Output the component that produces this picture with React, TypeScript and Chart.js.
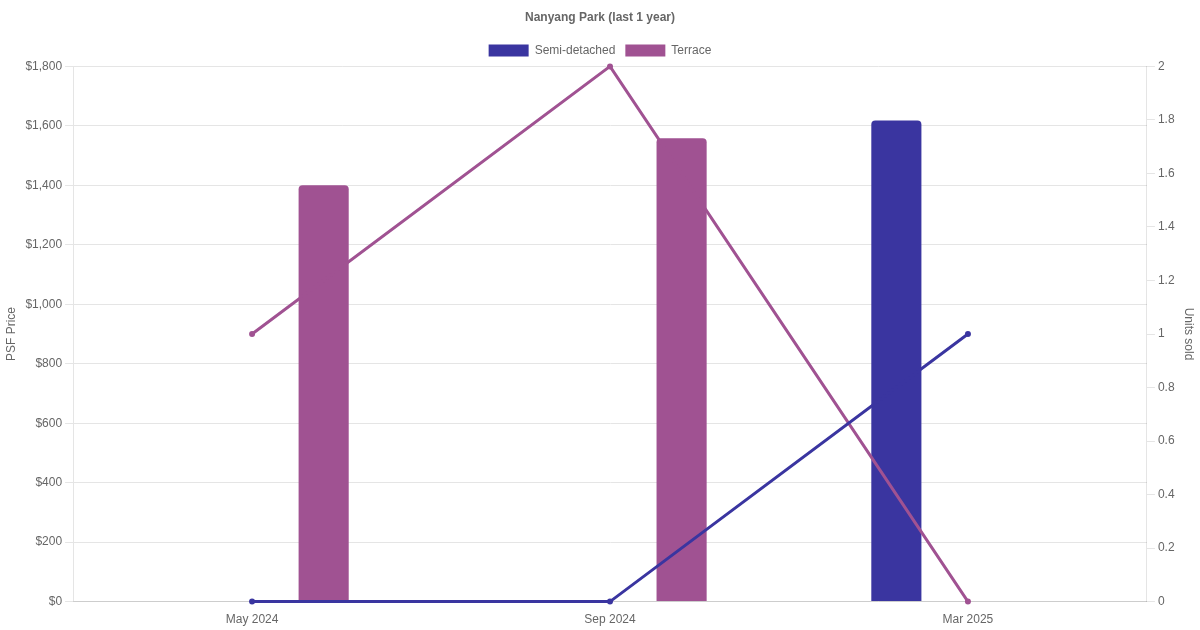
import React, { useEffect, useRef } from "react";
import { Chart, registerables } from "chart.js";

Chart.register(...registerables);

const categories = ["May 2024", "Sep 2024", "Mar 2025"];
const semiPsf: (number | null)[] = [null, null, 1618];
const terracePsf: (number | null)[] = [1400, 1558, null];
const semiUnits = [0, 0, 1];
const terraceUnits = [1, 2, 0];

const SEMI = "#3a35a0";
const TERR = "#a05292";
const FONT = "'Liberation Sans', Arial, sans-serif";

export default function App() {
  const ref = useRef<HTMLCanvasElement | null>(null);
  useEffect(() => {
    document.body.style.margin = "0";
    const ctx = ref.current!;
    const chart = new Chart(ctx, {
      type: "bar",
      data: {
        labels: categories,
        datasets: [
          {
            type: "line",
            label: "Semi-detached units",
            data: semiUnits,
            yAxisID: "y1",
            borderColor: SEMI,
            backgroundColor: SEMI,
            borderWidth: 3,
            pointRadius: 3,
            pointBorderWidth: 0,
            pointHoverRadius: 3,
            tension: 0,
            clip: false,
            order: 0,
          } as any,
          {
            type: "line",
            label: "Terrace units",
            data: terraceUnits,
            yAxisID: "y1",
            borderColor: TERR,
            backgroundColor: TERR,
            borderWidth: 3,
            pointRadius: 3,
            pointBorderWidth: 0,
            pointHoverRadius: 3,
            tension: 0,
            clip: false,
            order: 0,
          } as any,
          {
            label: "Semi-detached",
            data: semiPsf,
            yAxisID: "y",
            backgroundColor: SEMI,
            borderColor: SEMI,
            borderWidth: 0,
            borderRadius: 4,
            borderSkipped: "bottom",
            barPercentage: 0.35,
            categoryPercentage: 0.8,
            order: 1,
          },
          {
            label: "Terrace",
            data: terracePsf,
            yAxisID: "y",
            backgroundColor: TERR,
            borderColor: TERR,
            borderWidth: 0,
            borderRadius: 4,
            borderSkipped: "bottom",
            barPercentage: 0.35,
            categoryPercentage: 0.8,
            order: 1,
          },
        ],
      },
      options: {
        animation: false,
        responsive: false,
        maintainAspectRatio: false,
        plugins: {
          title: {
            display: true,
            text: "Nanyang Park (last 1 year)",
            color: "#666",
            font: { size: 12, weight: "bold", family: FONT },
            padding: { top: 10, bottom: 10 },
          },
          legend: {
            display: true,
            labels: {
              color: "#666",
              font: { size: 12, family: FONT },
              boxWidth: 40,
              boxHeight: 12,
              filter: (item: any) => item.datasetIndex >= 2,
            },
          },
          tooltip: { enabled: false },
        },
        scales: {
          x: {
            grid: { display: false },
            ticks: { color: "#666", font: { size: 12, family: FONT } },
          },
          y: {
            position: "left",
            min: 0,
            max: 1800,
            ticks: {
              stepSize: 200,
              color: "#666",
              font: { size: 12, family: FONT },
              callback: (v: any) => "$" + Number(v).toLocaleString("en-US"),
            },
            title: {
              display: true,
              text: "PSF Price",
              color: "#666",
              font: { size: 12, family: FONT },
            },
            grid: { color: "#e5e5e5" },
          },
          y1: {
            position: "right",
            min: 0,
            max: 2,
            ticks: {
              stepSize: 0.2,
              color: "#666",
              font: { size: 12, family: FONT },
              callback: (v: any) => String(Math.round(Number(v) * 10) / 10),
            },
            title: {
              display: true,
              text: "Units sold",
              color: "#666",
              font: { size: 12, family: FONT },
            },
            grid: { drawOnChartArea: false, color: "#e5e5e5" },
          },
        },
      },
    });
    return () => chart.destroy();
  }, []);
  return (
    <div style={{ width: 1200, height: 630 }}>
      <canvas ref={ref} width={1200} height={630} style={{ width: 1200, height: 630, display: "block" }} />
    </div>
  );
}
